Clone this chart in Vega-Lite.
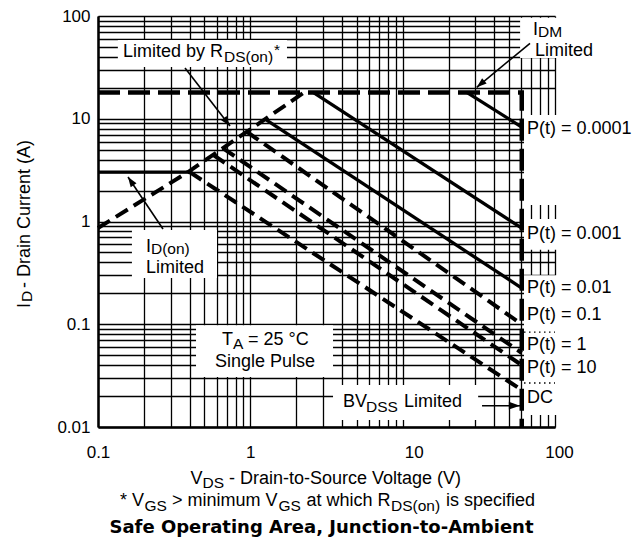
{
  "$schema": "https://vega.github.io/schema/vega-lite/v6.json",
  "width": 457,
  "height": 411,
  "autosize": {"type": "none"},
  "padding": {"left": 98, "top": 16, "right": 78, "bottom": 114},
  "background": "white",
  "config": {"view": {"stroke": null}},
  "datasets": {
    "curves": [
      {"series": "IDon", "kind": "solid", "k": 0, "V": 0.1, "I": 3.03},
      {"series": "IDon", "kind": "solid", "k": 1, "V": 0.39, "I": 3.03},
      {"series": "P0.0001", "kind": "solid", "k": 0, "V": 26.5, "I": 18},
      {"series": "P0.0001", "kind": "solid", "k": 1, "V": 60.5, "I": 8.3},
      {"series": "P0.001", "kind": "solid", "k": 0, "V": 2.6, "I": 18},
      {"series": "P0.001", "kind": "solid", "k": 1, "V": 60.5, "I": 0.86},
      {"series": "P0.01", "kind": "solid", "k": 0, "V": 1.25, "I": 9.9},
      {"series": "P0.01", "kind": "solid", "k": 1, "V": 60.5, "I": 0.225},
      {"series": "Rds", "kind": "dash", "k": 0, "V": 0.1, "I": 0.865},
      {"series": "Rds", "kind": "dash", "k": 1, "V": 0.39, "I": 3.03},
      {"series": "Rds", "kind": "dash", "k": 2, "V": 2.25, "I": 18},
      {"series": "P0.1", "kind": "dash", "k": 0, "V": 0.95, "I": 7.45},
      {"series": "P0.1", "kind": "dash", "k": 1, "V": 60.5, "I": 0.1},
      {"series": "P1", "kind": "dash", "k": 0, "V": 0.66, "I": 5.18},
      {"series": "P1", "kind": "dash", "k": 1, "V": 60.5, "I": 0.0525},
      {"series": "P10", "kind": "dash", "k": 0, "V": 0.57, "I": 4.45},
      {"series": "P10", "kind": "dash", "k": 1, "V": 60.5, "I": 0.04},
      {"series": "DC", "kind": "dash", "k": 0, "V": 0.4, "I": 3.03},
      {"series": "DC", "kind": "dash", "k": 1, "V": 60.5, "I": 0.0229},
      {"series": "Limit", "kind": "limit", "k": 0, "V": 0.1, "I": 18},
      {"series": "Limit", "kind": "limit", "k": 1, "V": 60.5, "I": 18},
      {"series": "Limit", "kind": "limit", "k": 2, "V": 60.5, "I": 0.01}
    ],
    "boxes": [
      {"V": 0.135, "V2": 1.74, "I": 58.4, "I2": 31.9},
      {"V": 0.167, "V2": 0.604, "I": 0.826, "I2": 0.282},
      {"V": 0.44, "V2": 3.49, "I": 0.098, "I2": 0.0307},
      {"V": 3.49, "V2": 31.3, "I": 0.0257, "I2": 0.0117},
      {"V": 59, "V2": 110, "I": 96, "I2": 39},
      {"V": 62.6, "V2": 110, "I": 10.9, "I2": 1.45},
      {"V": 62.6, "V2": 110, "I": 1.06, "I2": 0.53},
      {"V": 62.6, "V2": 110, "I": 0.3, "I2": 0.0131}
    ],
    "dots": [
      {"V": 62.6, "V2": 100, "I": 0.0838},
      {"V": 62.6, "V2": 100, "I": 0.0268}
    ],
    "arrows": [
      {"name": "rds", "V": 0.7357, "I": 8.5, "V2": 0.3725, "I2": 31.18},
      {"name": "idon", "V": 0.1574, "I": 2.711, "V2": 0.2671, "I2": 0.845},
      {"name": "idm", "V": 30.63, "I": 20.24, "V2": 68.55, "I2": 54.24},
      {"name": "bv", "V": 58.92, "I": 0.01612, "V2": 33.19, "I2": 0.01612}
    ],
    "labels": [
      {"kind": "main", "text": "Limited by R", "V": 0.1459, "I": 39.9},
      {"kind": "sub", "text": "DS(on)", "V": 0.6718, "I": 35.67},
      {"kind": "sub", "text": "*", "V": 1.4305, "I": 41.5},
      {"kind": "main", "text": "I", "V": 0.2065, "I": 0.505},
      {"kind": "sub", "text": "D(on)", "V": 0.2228, "I": 0.4827},
      {"kind": "center", "text": "Limited", "V": 0.3202, "I": 0.3153},
      {"kind": "main", "text": "T", "V": 0.6516, "I": 0.0628},
      {"kind": "sub", "text": "A", "V": 0.7693, "I": 0.05743},
      {"kind": "main", "text": "= 25 °C", "V": 0.9654, "I": 0.0628},
      {"kind": "center", "text": "Single Pulse", "V": 1.248, "I": 0.03837},
      {"kind": "main", "text": "BV", "V": 4.058, "I": 0.01565},
      {"kind": "sub", "text": "DSS", "V": 5.744, "I": 0.013996},
      {"kind": "main", "text": "Limited", "V": 10.2, "I": 0.01565},
      {"kind": "main", "text": "P(t) = 0.0001", "V": 65.5, "I": 7.106},
      {"kind": "main", "text": "P(t) = 0.001", "V": 65.5, "I": 0.6756},
      {"kind": "main", "text": "P(t) = 0.01", "V": 65.5, "I": 0.2014},
      {"kind": "main", "text": "P(t) = 0.1", "V": 65.5, "I": 0.11},
      {"kind": "main", "text": "P(t) = 1", "V": 65.5, "I": 0.05615},
      {"kind": "main", "text": "P(t) = 10", "V": 65.5, "I": 0.03353},
      {"kind": "main", "text": "DC", "V": 65.5, "I": 0.01713},
      {"kind": "main", "text": "I", "V": 71.7, "I": 65.33},
      {"kind": "sub", "text": "DM", "V": 77.4, "I": 62.5},
      {"kind": "main", "text": "Limited", "V": 73.9, "I": 40.8},
      {"kind": "main", "text": "V", "V": 0.4048, "I": 0.002788},
      {"kind": "sub", "text": "DS", "V": 0.4854, "I": 0.002549},
      {"kind": "main", "text": "- Drain-to-Source Voltage (V)", "V": 0.7245, "I": 0.002788},
      {"kind": "main", "text": "* V", "V": 0.1394, "I": 0.0017023},
      {"kind": "sub", "text": "GS", "V": 0.2019, "I": 0.0015223},
      {"kind": "main", "text": "> minimum V", "V": 0.3059, "I": 0.0017023},
      {"kind": "sub", "text": "GS", "V": 1.5308, "I": 0.0015223},
      {"kind": "main", "text": "at which R", "V": 2.3375, "I": 0.0017023},
      {"kind": "sub", "text": "DS(on)", "V": 8.384, "I": 0.0015223},
      {"kind": "main", "text": "is specified", "V": 19.25, "I": 0.0017023},
      {"kind": "ymain", "text": "I", "V": 0.03578, "I": 0.144},
      {"kind": "ysub", "text": "D", "V": 0.03687, "I": 0.1646},
      {"kind": "ymain", "text": "- Drain Current (A)", "V": 0.03578, "I": 0.2253},
      {"kind": "title", "text": "Safe Operating Area, Junction-to-Ambient", "V": 2.932, "I": 0.0009298}
    ]
  },
  "encoding": {
    "x": {
      "field": "V",
      "type": "quantitative",
      "scale": {"type": "log", "domain": [0.1, 100], "nice": false},
      "axis": {
        "values": [0.1, 0.2, 0.3, 0.4, 0.5, 0.6, 0.7, 0.8, 0.9, 1, 2, 3, 4, 5, 6, 7, 8, 9, 10, 20, 30, 40, 50, 60, 70, 80, 90, 100],
        "format": "~g",
        "labelExpr": "indexof(['0.1','1','10','100'], datum.label) >= 0 ? datum.label : ''",
        "labelOffset": {"condition": [{"test": "datum.label == '10'", "value": 11}, {"test": "datum.label == '100'", "value": 4}], "value": 0},
        "grid": true,
        "gridColor": "#000000",
        "gridWidth": 1.3,
        "gridOpacity": 1,
        "ticks": false,
        "domain": true,
        "domainColor": "#000000",
        "domainWidth": 2.5,
        "labelFont": "Liberation Sans",
        "labelFontSize": 17,
        "labelColor": "#000000",
        "labelPadding": 17,
        "labelFlush": false,
        "labelOverlap": false,
        "title": null
      }
    },
    "y": {
      "field": "I",
      "type": "quantitative",
      "scale": {"type": "log", "domain": [0.01, 100], "nice": false},
      "axis": {
        "values": [0.01, 0.02, 0.03, 0.04, 0.05, 0.06, 0.07, 0.08, 0.09, 0.1, 0.2, 0.3, 0.4, 0.5, 0.6, 0.7, 0.8, 0.9, 1, 2, 3, 4, 5, 6, 7, 8, 9, 10, 20, 30, 40, 50, 60, 70, 80, 90, 100],
        "format": "~g",
        "labelExpr": "indexof(['0.01','0.1','1','10','100'], datum.label) >= 0 ? datum.label : ''",
        "grid": true,
        "gridColor": "#000000",
        "gridWidth": 1.3,
        "gridOpacity": 1,
        "ticks": false,
        "domain": true,
        "domainColor": "#000000",
        "domainWidth": 2.5,
        "labelFont": "Liberation Sans",
        "labelFontSize": 17,
        "labelColor": "#000000",
        "labelPadding": 8,
        "labelOverlap": false,
        "title": null
      }
    }
  },
  "layer": [
    {
      "data": {"name": "boxes"},
      "mark": {"type": "rect", "color": "white", "opacity": 1},
      "encoding": {"x2": {"field": "V2"}, "y2": {"field": "I2"}}
    },
    {
      "data": {"name": "dots"},
      "mark": {"type": "rule", "color": "black", "strokeWidth": 1.3, "strokeDash": [1.5, 3.5]},
      "encoding": {"x2": {"field": "V2"}}
    },
    {
      "data": {"name": "curves"},
      "transform": [{"filter": "datum.kind == 'solid'"}],
      "mark": {"type": "line", "color": "black", "strokeWidth": 3.3},
      "encoding": {"detail": {"field": "series"}, "order": {"field": "k", "type": "quantitative"}}
    },
    {
      "data": {"name": "curves"},
      "transform": [{"filter": "datum.kind == 'dash'"}],
      "mark": {"type": "line", "color": "black", "strokeWidth": 4, "strokeDash": [14, 7]},
      "encoding": {"detail": {"field": "series"}, "order": {"field": "k", "type": "quantitative"}}
    },
    {
      "data": {"name": "curves"},
      "transform": [{"filter": "datum.kind == 'limit'"}],
      "mark": {"type": "line", "color": "black", "strokeWidth": 4.5, "strokeDash": [22, 8]},
      "encoding": {"detail": {"field": "series"}, "order": {"field": "k", "type": "quantitative"}}
    },
    {
      "data": {"name": "arrows"},
      "mark": {"type": "rule", "color": "black", "strokeWidth": 1.6},
      "encoding": {"x2": {"field": "V2"}, "y2": {"field": "I2"}}
    },
    {
      "data": {"name": "arrows"},
      "transform": [{"filter": "datum.name == 'rds'"}],
      "mark": {"type": "point", "shape": "M0,0L0.35,1L-0.35,1Z", "size": 400, "filled": true, "color": "black", "opacity": 1, "strokeWidth": 0, "angle": 142}
    },
    {
      "data": {"name": "arrows"},
      "transform": [{"filter": "datum.name == 'idon'"}],
      "mark": {"type": "point", "shape": "M0,0L0.35,1L-0.35,1Z", "size": 400, "filled": true, "color": "black", "opacity": 1, "strokeWidth": 0, "angle": 326}
    },
    {
      "data": {"name": "arrows"},
      "transform": [{"filter": "datum.name == 'idm'"}],
      "mark": {"type": "point", "shape": "M0,0L0.35,1L-0.35,1Z", "size": 400, "filled": true, "color": "black", "opacity": 1, "strokeWidth": 0, "angle": 230}
    },
    {
      "data": {"name": "arrows"},
      "transform": [{"filter": "datum.name == 'bv'"}],
      "mark": {"type": "point", "shape": "M0,0L0.35,1L-0.35,1Z", "size": 500, "filled": true, "color": "black", "opacity": 1, "strokeWidth": 0, "angle": 90}
    },
    {
      "data": {"name": "labels"},
      "transform": [{"filter": "datum.kind == 'main'"}],
      "mark": {"type": "text", "align": "left", "baseline": "alphabetic", "font": "Liberation Sans", "fontSize": 18, "color": "black"},
      "encoding": {"text": {"field": "text"}}
    },
    {
      "data": {"name": "labels"},
      "transform": [{"filter": "datum.kind == 'sub'"}],
      "mark": {"type": "text", "align": "left", "baseline": "alphabetic", "font": "Liberation Sans", "fontSize": 15.5, "color": "black"},
      "encoding": {"text": {"field": "text"}}
    },
    {
      "data": {"name": "labels"},
      "transform": [{"filter": "datum.kind == 'center'"}],
      "mark": {"type": "text", "align": "center", "baseline": "alphabetic", "font": "Liberation Sans", "fontSize": 18, "color": "black"},
      "encoding": {"text": {"field": "text"}}
    },
    {
      "data": {"name": "labels"},
      "transform": [{"filter": "datum.kind == 'ymain'"}],
      "mark": {"type": "text", "align": "left", "baseline": "alphabetic", "angle": 270, "font": "Liberation Sans", "fontSize": 18, "color": "black"},
      "encoding": {"text": {"field": "text"}}
    },
    {
      "data": {"name": "labels"},
      "transform": [{"filter": "datum.kind == 'ysub'"}],
      "mark": {"type": "text", "align": "left", "baseline": "alphabetic", "angle": 270, "font": "Liberation Sans", "fontSize": 15.5, "color": "black"},
      "encoding": {"text": {"field": "text"}}
    },
    {
      "data": {"name": "labels"},
      "transform": [{"filter": "datum.kind == 'title'"}],
      "mark": {"type": "text", "align": "center", "baseline": "alphabetic", "font": "DejaVu Sans", "fontWeight": "bold", "fontSize": 18, "color": "black"},
      "encoding": {"text": {"field": "text"}}
    }
  ]
}
